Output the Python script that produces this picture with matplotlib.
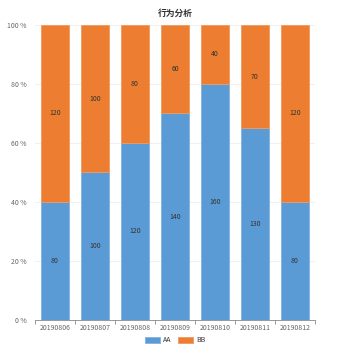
import matplotlib
matplotlib.use("Agg")
import matplotlib.pyplot as plt
from matplotlib.ticker import FixedLocator

plt.rcParams['font.family'] = ['Noto Sans CJK SC', 'DejaVu Sans']

categories = ["20190806", "20190807", "20190808", "20190809", "20190810", "20190811", "20190812"]
aa = [80, 100, 120, 140, 160, 130, 80]
bb = [120, 100, 80, 60, 40, 70, 120]
ytick_labels = ["0 %", "20 %", "40 %", "60 %", "80 %", "100 %"]

blue = "#5b9bd5"
orange = "#ed7d31"

fig = plt.figure(figsize=(3.5, 3.5), dpi=100)
ax = fig.add_axes([0.1, 0.0857, 0.8, 0.843])

tot = [a + b for a, b in zip(aa, bb)]
pa = [a / t * 100 for a, t in zip(aa, tot)]
pb = [b / t * 100 for b, t in zip(bb, tot)]
x = list(range(len(categories)))
w = 0.68
ba = ax.bar(x, pa, width=w, color=blue, edgecolor="#7fb2e0", linewidth=0.6, label="AA", zorder=3)
bbars = ax.bar(x, pb, width=w, bottom=pa, color=orange, edgecolor="#f29a5e", linewidth=0.6, label="BB", zorder=3)

for i in x:
    ax.text(i, pa[i] / 2, str(aa[i]), ha="center", va="center", fontsize=5, color="#333333", zorder=4)
    ax.text(i, pa[i] + pb[i] / 2, str(bb[i]), ha="center", va="center", fontsize=5, color="#333333", zorder=4)

ax.set_xlim(-0.5, len(categories) - 0.5)
ax.set_ylim(0, 100)
ax.set_yticks([0, 20, 40, 60, 80, 100])
ax.set_yticklabels(ytick_labels)
ax.set_xticks(x)
ax.set_xticklabels(categories)
ax.xaxis.set_minor_locator(FixedLocator([i - 0.5 for i in range(len(categories) + 1)]))
ax.tick_params(axis="x", which="major", length=0, labelsize=5, labelcolor="#666666", pad=3)
ax.tick_params(axis="x", which="minor", length=3, color="#888888", width=0.6)
ax.tick_params(axis="y", length=0, labelsize=5, labelcolor="#666666", pad=6)
ax.grid(axis="y", color="#eeeeee", linewidth=0.6, zorder=0)
for s in ["top", "right", "left"]:
    ax.spines[s].set_visible(False)
ax.spines["bottom"].set_color("#888888")
ax.spines["bottom"].set_linewidth(0.6)

fig.text(0.5, 0.963, "行为分析", ha="center", va="center", fontsize=6.3, fontweight="bold", color="#333333")
fig.legend(handles=[ba, bbars], labels=["AA", "BB"], loc="center", bbox_to_anchor=(0.5, 0.028),
           ncol=2, frameon=False, fontsize=5, handlelength=2.2, handleheight=1.0,
           columnspacing=1.0, handletextpad=0.4, labelcolor="#333333")

fig.savefig("out.png", dpi=100)
